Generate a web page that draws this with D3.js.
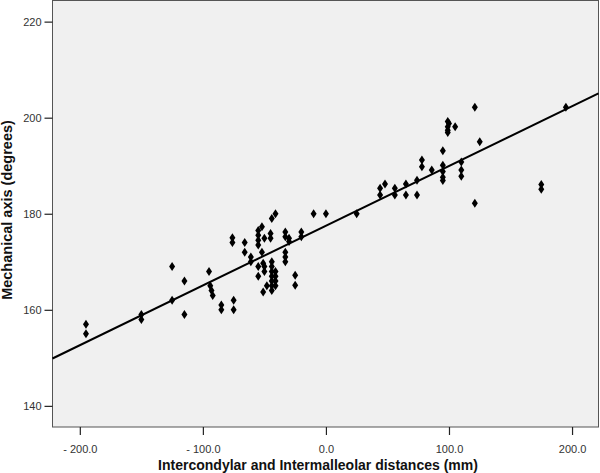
<!DOCTYPE html>
<html>
<head>
<meta charset="utf-8">
<script src="https://cdn.jsdelivr.net/npm/d3@7"></script>
<style>
  body { margin: 0; background: #fff; }
  text { font-family: "Liberation Sans", Arial, sans-serif; }
</style>
</head>
<body>
<svg id="chart" width="600" height="473"></svg>
<script>
// distances (mm) and matching mechanical axis (degrees)
var distances = [
  -195, -195, -150, -150, -125, -125, -115, -115,
  -95, -94, -93, -92, -85, -85, -76, -76, -75, -75,
  -66, -66, -61, -61,
  -55, -55, -55, -55, -55, -55,
  -52, -52, -51, -51, -50, -50, -50, -48, -45, -45,
  -44, -44, -44, -44, -44, -44, -44, -44,
  -41, -41, -41, -41, -41,
  -33, -33, -33, -33, -33, -30, -30, -25, -25, -20, -20,
  -10, 0, 25,
  44, 44, 48, 56, 56, 65, 65, 74, 74, 78, 78, 86,
  95, 95, 95, 95, 95, 99, 99, 99, 99, 100, 105,
  110, 110, 110, 121, 121, 125, 175, 175, 195
];
var axisDeg = [
  157, 155, 159, 158, 169, 162, 166, 159,
  168, 165, 164, 163, 161, 160, 175, 174, 162, 160,
  174, 172, 171, 170,
  176.5, 175.5, 174.5, 173.5, 169, 167,
  177.3, 172, 169.7, 163.7, 174.9, 169, 168, 165, 175.9, 174.9,
  179, 170, 169, 168, 167, 166, 165, 164,
  180, 168, 167, 166, 165,
  176.2, 175.2, 172, 171, 170, 174.9, 174.2, 167.2, 165.1, 176.2, 175.2,
  180, 180, 180,
  185.3, 183.9, 186.2, 185.3, 183.9, 186.2, 183.9, 187, 183.9, 191.2, 189.8, 189.1,
  193.1, 190.1, 188.8, 187.6, 186.9, 199.2, 198.1, 197.4, 196.9, 198.8, 198.1,
  190.8, 189.1, 187.8, 202.2, 182.2, 195, 186.1, 185.1, 202.2
];
var xTicks = [-200, -100, 0, 100, 200];
var yTicks = [140, 160, 180, 200, 220];
var fitIntercept = 177.5;
var fitSlope = 0.1244;

var svg = d3.select("#chart");
var plotLeft = 52.5, plotRight = 598.5, plotTop = 0.5, plotBottom = 427;

var x = d3.scaleLinear().domain([-222.2, 221.5]).range([plotLeft, plotRight]);
var y = d3.scaleLinear().domain([135.6, 224.4]).range([plotBottom, plotTop]);

svg.append("rect")
  .attr("x", plotLeft).attr("y", plotTop)
  .attr("width", plotRight - plotLeft).attr("height", plotBottom - plotTop)
  .attr("fill", "#f0f0f0")
  .attr("stroke", "#555")
  .attr("stroke-width", 1);

var fmtX = function (d) {
  return d < 0 ? "- " + Math.abs(d).toFixed(1) : d.toFixed(1);
};

var xAxis = svg.append("g")
  .attr("transform", "translate(0," + plotBottom + ")")
  .call(d3.axisBottom(x).tickValues(xTicks).tickFormat(fmtX).tickSize(8).tickSizeOuter(0).tickPadding(10));
var yAxis = svg.append("g")
  .attr("transform", "translate(" + plotLeft + ",0)")
  .call(d3.axisLeft(y).tickValues(yTicks).tickFormat(d3.format("d")).tickSize(8).tickSizeOuter(0).tickPadding(3));

[xAxis, yAxis].forEach(function (g) {
  g.select(".domain").remove();
  g.selectAll(".tick line").attr("stroke", "#222").attr("stroke-width", 1.2);
  g.selectAll(".tick text")
    .attr("fill", "#333")
    .style("font-size", "11px")
    .style("font-family", "'Liberation Sans', Arial, sans-serif");
});

// regression line
var xd = x.domain();
svg.append("line")
  .attr("x1", x(xd[0])).attr("y1", y(fitIntercept + fitSlope * xd[0]))
  .attr("x2", x(xd[1])).attr("y2", y(fitIntercept + fitSlope * xd[1]))
  .attr("stroke", "#000")
  .attr("stroke-width", 2);

var pts = distances.map(function (d, i) { return [d, axisDeg[i]]; });
svg.append("g").selectAll("path")
  .data(pts)
  .join("path")
  .attr("d", "M0,-4.5L3,0L0,4.5L-3,0Z")
  .attr("transform", function (d) { return "translate(" + x(d[0]) + "," + y(d[1]) + ")"; })
  .attr("fill", "#000");

svg.append("text")
  .attr("x", 318)
  .attr("y", 470)
  .attr("text-anchor", "middle")
  .style("font-size", "14px")
  .style("font-weight", "bold")
  .attr("fill", "#111")
  .text("Intercondylar and Intermalleolar distances (mm)");

svg.append("text")
  .attr("transform", "translate(12,210) rotate(-90)")
  .attr("text-anchor", "middle")
  .style("font-size", "14.5px")
  .style("font-weight", "bold")
  .attr("fill", "#111")
  .text("Mechanical axis (degrees)");
</script>
</body>
</html>
